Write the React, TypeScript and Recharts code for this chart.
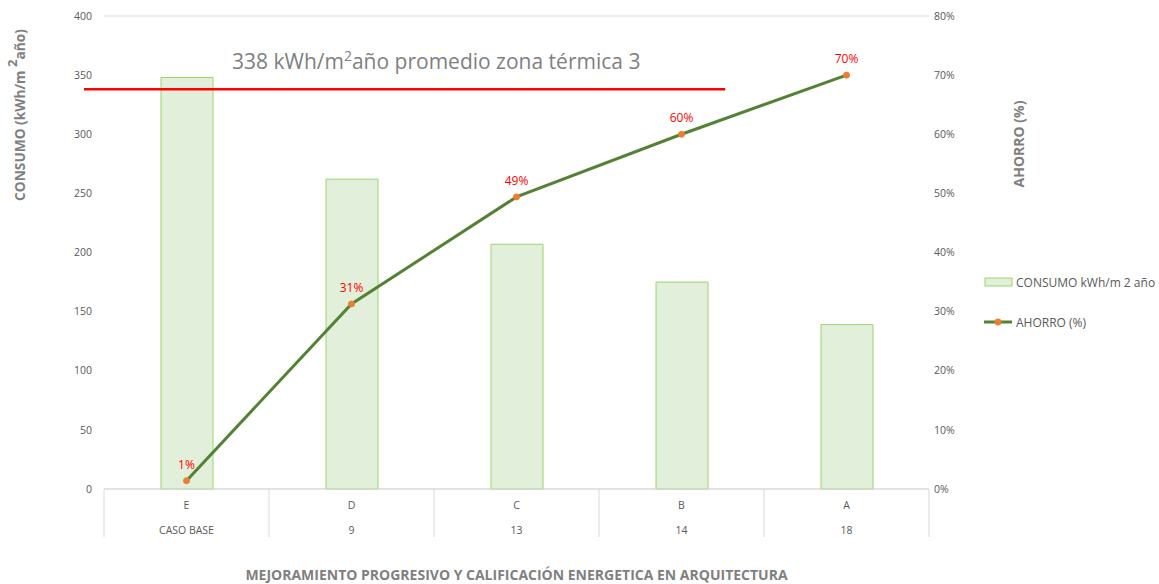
import React from 'react';
import { ComposedChart, Bar, Line, XAxis, YAxis, CartesianGrid, Legend, ReferenceLine, LabelList } from 'recharts';

// --- data ---
const grades = ['E', 'D', 'C', 'B', 'A'];
const subLabels = ['CASO BASE', '9', '13', '14', '18'];
const consumo = [348, 262, 207, 175, 139];
const ahorro = [1.4, 31.3, 49.4, 60.0, 70.0];
const promedioZona = 338;
const leftTicks = [0, 50, 100, 150, 200, 250, 300, 350, 400];
const rightTicks = [0, 10, 20, 30, 40, 50, 60, 70, 80];

const data = grades.map((g, i) => ({ grade: g, sub: subLabels[i], consumo: consumo[i], ahorro: ahorro[i] }));

const FONT = '"Open Sans", Lato, sans-serif';
const GREY = '#7f7f7f';
const TICK = '#595959';
const GRID = '#d9d9d9';
const BAR_FILL = '#e2efda';
const BAR_STROKE = '#9bd46a';
const LINE = '#548235';
const DOT = '#ed7d31';

const XTick = (props: any) => {
  const { x, y, payload, index } = props;
  const band = 825 / grades.length;
  const sub = subLabels[index];
  return (
    <g>
      <line x1={x - band / 2} y1={y} x2={x - band / 2} y2={y + 48} stroke={GRID} />
      {index === grades.length - 1 && <line x1={x + band / 2} y1={y} x2={x + band / 2} y2={y + 48} stroke={GRID} />}
      <text x={x} y={y + 20} textAnchor="middle" fontSize={10.5} fill={TICK} fontFamily={FONT}>{payload.value}</text>
      <text x={x} y={y + 45} textAnchor="middle" fontSize={10.5} fill={TICK} fontFamily={FONT}>{sub}</text>
    </g>
  );
};

const PromedioLine = (props: any) => {
  const { x1, x2, y1 } = props;
  const start = x1 - 20;
  const end = x1 + (x2 - x1) * 0.753;
  return (
    <g>
      <line x1={start} y1={y1} x2={end} y2={y1} stroke="#ff0000" strokeWidth={2.5} />
      <text x={x1 + 128} y={y1 - 20} fontSize={21} fill={GREY} fontFamily={FONT}>
        {promedioZona} kWh/m<tspan dy={-8} fontSize={14}>2</tspan><tspan dy={8}>año promedio zona térmica 3</tspan>
      </text>
    </g>
  );
};

const LegendContent = () => (
  <div style={{ fontFamily: FONT, fontSize: 12, color: TICK }}>
    <div style={{ display: 'flex', alignItems: 'center', height: 20 }}>
      <svg width={30} height={12}><rect x={1} y={2} width={27} height={8} fill={BAR_FILL} stroke={BAR_STROKE} /></svg>
      <span style={{ marginLeft: 2 }}>CONSUMO kWh/m 2 año</span>
    </div>
    <div style={{ display: 'flex', alignItems: 'center', height: 20, marginTop: 20 }}>
      <svg width={30} height={12}>
        <line x1={0} y1={6} x2={28} y2={6} stroke={LINE} strokeWidth={3} />
        <circle cx={14} cy={6} r={3.5} fill={DOT} />
      </svg>
      <span style={{ marginLeft: 2 }}>AHORRO (%)</span>
    </div>
  </div>
);

export default function App() {
  return (
    <div style={{ position: 'absolute', left: 0, top: 0, background: '#fff' }}>
      <ComposedChart width={1159} height={584} data={data} margin={{ top: 16, right: 130, bottom: 35, left: 60 }}>
        <CartesianGrid vertical={false} stroke={GRID} />
        <XAxis
          dataKey="grade"
          height={60}
          tickSize={0}
          tickMargin={0}
          tickLine={false}
          axisLine={{ stroke: GRID }}
          tick={<XTick />}
          interval={0}
          label={({ viewBox }: any) => (
            <text x={viewBox.x + viewBox.width / 2} y={580} textAnchor="middle" fontSize={14} fontWeight="bold" fill={GREY} fontFamily={FONT}>
              MEJORAMIENTO PROGRESIVO Y CALIFICACIÓN ENERGETICA EN ARQUITECTURA
            </text>
          )}
        />
        <YAxis
          yAxisId="left"
          width={44}
          domain={[0, 400]}
          ticks={leftTicks}
          tickSize={0}
          tickMargin={12}
          axisLine={false}
          tickLine={false}
          tick={{ fontSize: 10.5, fill: TICK, fontFamily: FONT }}
          label={() => (
            <text transform="translate(25,115) rotate(-90)" textAnchor="middle" fontSize={13.7} fontWeight="bold" fill={GREY} fontFamily={FONT}>
              CONSUMO (kWh/m <tspan dy={-8} fontSize={13}>2</tspan><tspan dy={8}>año)</tspan>
            </text>
          )}
        />
        <YAxis
          yAxisId="right"
          orientation="right"
          width={100}
          domain={[0, 80]}
          ticks={rightTicks}
          tickFormatter={(v: number) => `${v}%`}
          tickSize={0}
          tickMargin={5}
          axisLine={false}
          tickLine={false}
          tick={{ fontSize: 10.5, fill: TICK, fontFamily: FONT, textAnchor: 'start' }}
          label={() => (
            <text transform="translate(1024,144) rotate(-90)" textAnchor="middle" fontSize={14} fontWeight="bold" fill={GREY} fontFamily={FONT}>
              AHORRO (%)
            </text>
          )}
        />
        <Legend
          layout="vertical"
          align="center"
          verticalAlign="middle"
          content={<LegendContent />}
          wrapperStyle={{ left: 984, top: 272, width: 175 }}
        />
        <Bar yAxisId="left" dataKey="consumo" name="CONSUMO kWh/m 2 año" fill={BAR_FILL} stroke={BAR_STROKE} barSize={52} isAnimationActive={false} />
        <ReferenceLine yAxisId="left" y={promedioZona} shape={<PromedioLine />} />
        <Line
          yAxisId="right"
          dataKey="ahorro"
          name="AHORRO (%)"
          stroke={LINE}
          strokeWidth={3}
          dot={{ r: 3, fill: DOT, stroke: DOT, strokeWidth: 1 }}
          activeDot={false}
          isAnimationActive={false}
        >
          <LabelList dataKey="ahorro" position="top" offset={12} fill="#ff0000" fontSize={12} fontFamily={FONT} formatter={(v: any) => `${Math.round(Number(v))}%`} />
        </Line>
      </ComposedChart>
    </div>
  );
}
